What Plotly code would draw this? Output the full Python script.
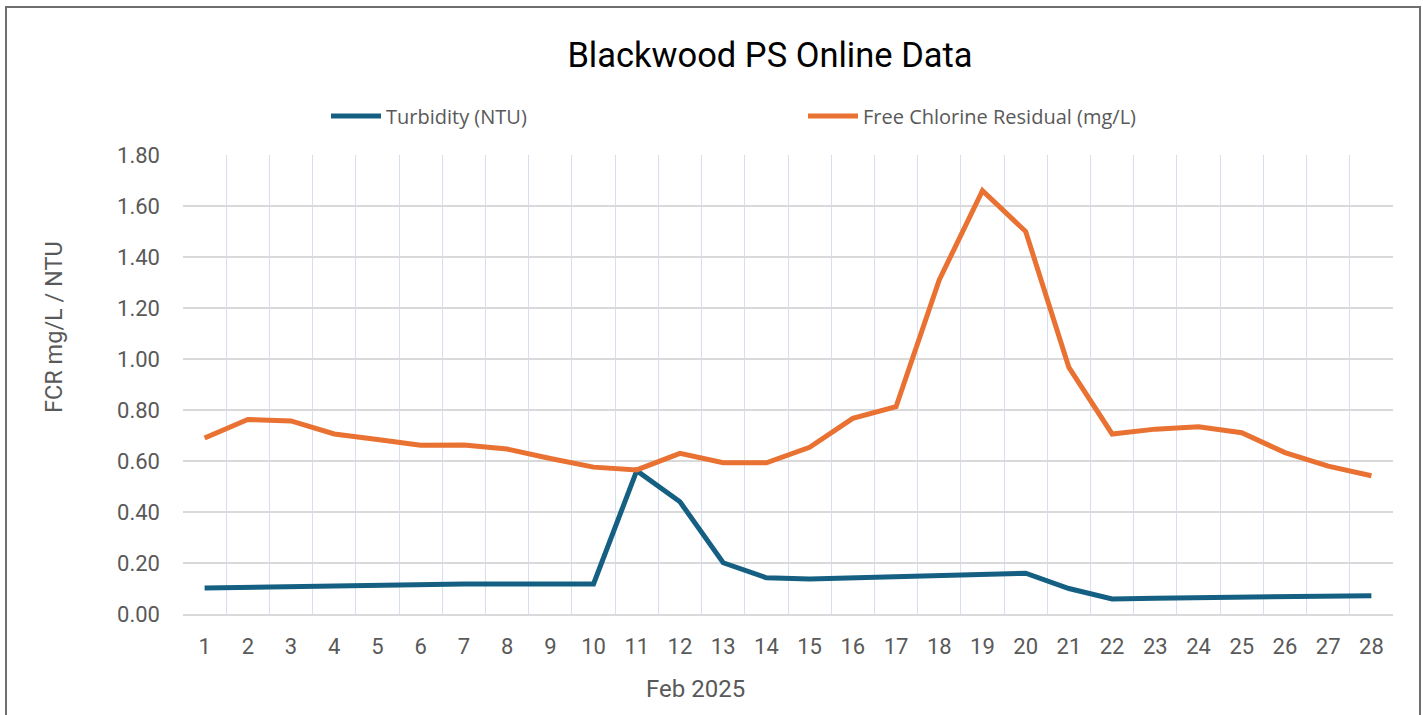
import plotly.graph_objects as go

days = list(range(1, 29))
tick_labels = [str(d) for d in days]
turbidity = [0.102, 0.105, 0.109, 0.112, 0.114, 0.117, 0.118, 0.118, 0.118, 0.118,
             0.562, 0.44, 0.201, 0.142, 0.137, 0.142, 0.147, 0.152, 0.157, 0.16,
             0.10, 0.059, 0.062, 0.064, 0.064, 0.066, 0.068, 0.072]
fcr = [0.69, 0.763, 0.757, 0.706, 0.684, 0.662, 0.663, 0.647, 0.61, 0.576,
       0.565, 0.63, 0.593, 0.593, 0.654, 0.767, 0.813, 1.31, 1.66, 1.50,
       0.967, 0.706, 0.725, 0.734, 0.711, 0.633, 0.58, 0.542]
y_ticks = [0.0, 0.2, 0.4, 0.6, 0.8, 1.0, 1.2, 1.4, 1.6, 1.8]
x_title = "Feb 2025"
y_title = "FCR mg/L / NTU"

FONT = "Roboto"
GRAY = "#595959"

fig = go.Figure()
fig.add_trace(go.Scatter(x=days, y=turbidity, mode="lines", name="Turbidity (NTU)",
                         line=dict(color="#156082", width=5)))
fig.add_trace(go.Scatter(x=days, y=fcr, mode="lines", name="Free Chlorine Residual (mg/L)",
                         line=dict(color="#E97132", width=5)))

L, R, T, B = 183, 30, 155, 101
W, H = 1423, 715
pw, ph = W - L - R, H - T - B

def px_x(p):
    return (p - L) / pw

def px_y(p):
    return (H - B - p) / ph

fig.update_layout(
    width=W, height=H,
    margin=dict(l=L, r=R, t=T, b=B, autoexpand=False),
    paper_bgcolor="white", plot_bgcolor="white",
    font=dict(family=FONT, color=GRAY),
    title=dict(text="Blackwood PS Online Data", x=770 / W, xanchor="center",
               y=1 - 55 / H, yanchor="middle",
               font=dict(family=FONT, size=34.5, color="#000000")),
    showlegend=True,
    legend=dict(orientation="h", x=px_x(326), xanchor="left", y=px_y(116), yanchor="middle",
                font=dict(family="Open Sans", size=20, color=GRAY),
                entrywidth=412, entrywidthmode="pixels", itemwidth=50,
                bgcolor="rgba(0,0,0,0)"),
    xaxis=dict(range=[0.5, 28.5], tickmode="array", tickvals=days, ticktext=tick_labels,
               showgrid=False, zeroline=False, showline=True, linecolor="#d9d9d9", linewidth=2,
               ticks="", ticklabelstandoff=12,
               tickfont=dict(family=FONT, size=22, color=GRAY),
               minor=dict(tickmode="array", tickvals=[d + 0.5 for d in [0] + days],
                          showgrid=True, gridcolor="#d5dff0", gridwidth=1, ticks="")),
    yaxis=dict(range=[0, 1.8], tickmode="array", tickvals=y_ticks,
               ticktext=[f"{v:.2f}" for v in y_ticks],
               showgrid=True, gridcolor="#d9d9d9", gridwidth=1.5, zeroline=False,
               ticks="", ticklabelstandoff=22,
               tickfont=dict(family=FONT, size=22, color=GRAY)),
)

fig.add_annotation(text=y_title, xref="paper", yref="paper", x=px_x(54), y=px_y(327),
                   xanchor="center", yanchor="middle", textangle=-90, showarrow=False,
                   font=dict(family=FONT, size=23.5, color=GRAY))
fig.add_annotation(text=x_title, xref="paper", yref="paper", x=px_x(695), y=px_y(689),
                   xanchor="center", yanchor="middle", showarrow=False,
                   font=dict(family=FONT, size=24, color=GRAY))

fig.add_shape(type="rect", xref="paper", yref="paper",
              x0=px_x(6), x1=px_x(1420), y0=px_y(760), y1=px_y(7),
              line=dict(color="#6e6e6e", width=2), fillcolor="rgba(0,0,0,0)", layer="above")

fig.write_html("out.html", config={"displayModeBar": False},
               post_script="document.body.style.margin='0px';")
